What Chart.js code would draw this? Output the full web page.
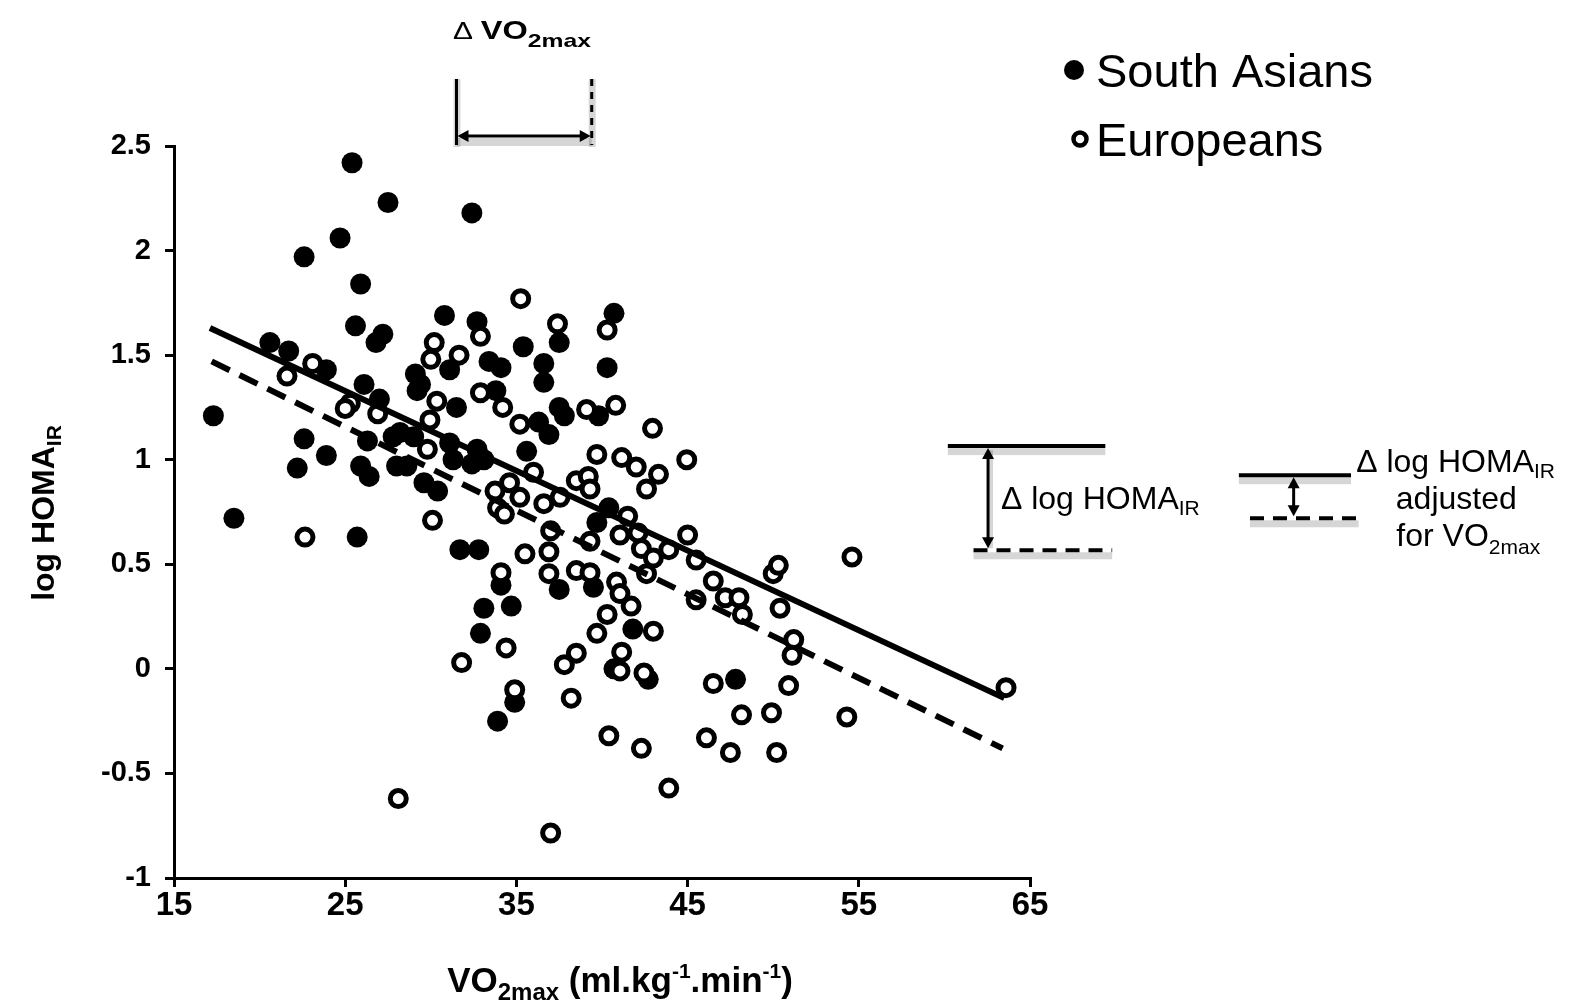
<!DOCTYPE html>
<html>
<head>
<meta charset="utf-8">
<script src="https://cdn.jsdelivr.net/npm/chart.js@4.4.0/dist/chart.umd.min.js"></script>
<style>
  html, body { margin: 0; padding: 0; background: #fff; }
  #wrap { width: 1593px; height: 1000px; }
</style>
</head>
<body>
<div id="wrap"><canvas id="myChart" width="1593" height="1000"></canvas></div>
<script>
// South Asians (filled circles)
const southAsianX = [17.3, 18.5, 20.6, 21.7, 22.6, 22.6, 22.2, 23.9, 23.9, 24.7,
  25.4, 25.9, 25.6, 26.1, 25.7, 25.9, 26.4, 26.8, 27.2, 27.5,
  27.0, 26.3, 28.2, 28.0, 28.6, 27.8, 29.1, 29.4, 29.2, 29.6,
  30.4, 30.8, 31.1, 31.1, 31.3, 31.5, 31.7, 32.4, 32.4, 32.7,
  32.7, 33.1, 32.8, 33.1, 32.9, 33.4, 33.8, 34.1, 34.1, 33.9,
  34.7, 34.9, 35.4, 35.6, 36.3, 36.6, 36.6, 36.9, 37.5, 37.5,
  37.8, 37.5, 39.5, 39.7, 40.3, 40.4, 40.7, 39.8, 41.8, 42.7,
  40.7, 47.8, 29.0];
const southAsianY = [1.21, 0.72, 1.56, 1.52, 1.97, 1.10, 0.96, 1.43, 1.02, 2.06,
  2.42, 1.84, 1.64, 1.36, 0.63, 0.97, 0.92, 1.56, 1.60, 2.23,
  1.29, 1.09, 1.13, 0.97, 0.97, 1.11, 1.41, 1.36, 1.33, 0.89,
  0.85, 1.69, 1.43, 1.08, 1.00, 1.25, 0.57, 0.98, 2.18, 1.66,
  1.05, 1.00, 0.57, 0.29, 0.17, 1.47, 1.33, 1.44, 0.40, -0.25,
  0.30, -0.16, 1.54, 1.04, 1.18, 1.46, 1.37, 1.12, 1.25, 1.56,
  1.21, 0.38, 0.39, 0.70, 1.44, 0.77, 1.70, 1.21, 0.19, -0.05,
  0.00, -0.05, 1.11];

// Europeans (open circles)
const europeanX = [21.6, 22.65, 23.1, 25.3, 25.0, 26.9, 30.35, 30.2, 30.0, 29.95,
  29.8, 30.1, 28.1, 31.65, 32.9, 32.9, 31.8, 34.2, 34.4, 33.75,
  33.9, 34.3, 34.1, 34.6, 35.2, 35.25, 35.2, 36.0, 35.5, 34.9,
  36.6, 37.0, 36.9, 36.9, 37.0, 37.4, 37.55, 37.8, 38.2, 38.5,
  38.5, 38.5, 39.2, 39.3, 39.3, 39.3, 39.1, 39.7, 39.7, 40.3,
  40.3, 40.4, 40.8, 40.85, 41.05, 41.05, 41.15, 41.15, 41.05, 41.5,
  41.7, 42.1, 42.0, 42.3, 42.3, 42.45, 42.6, 42.6, 42.95, 43.0,
  43.0, 43.3, 43.9, 43.9, 44.95, 45.0, 45.5, 45.5, 46.1, 46.5,
  46.5, 47.2, 48.0, 47.5, 48.2, 48.15, 49.9, 50.0, 50.3, 50.2,
  50.4, 50.9, 51.2, 51.1, 54.3, 54.6, 63.6];
const europeanY = [1.40, 0.63, 1.46, 1.27, 1.245, 1.22, 1.28, 1.56, 1.48, 1.19,
  1.05, 0.71, -0.62, 1.50, 1.59, 1.32, 0.03, 1.25, 0.10, 0.85,
  0.77, 0.74, 0.46, 0.89, 0.82, 1.77, 1.17, 0.94, 0.55, -0.10,
  0.79, 0.66, 0.56, 0.455, -0.785, 1.65, 0.82, 0.02, -0.14, 0.075,
  0.47, 0.90, 0.92, 0.86, 0.61, 0.46, 1.24, 1.025, 0.17, 1.62,
  0.26, -0.32, 1.26, 0.415, 0.64, 0.36, 1.01, 0.08, -0.01, 0.73,
  0.30, 0.65, 0.965, 0.575, -0.38, -0.02, 0.455, 0.86, 1.15, 0.18,
  0.53, 0.93, 0.57, -0.57, 1.00, 0.64, 0.52, 0.33, -0.33, -0.07,
  0.42, 0.34, 0.34, -0.40, 0.26, -0.22, -0.21, 0.455, 0.495, -0.40,
  0.29, -0.08, 0.14, 0.065, -0.23, 0.535, -0.09];

// regression lines, end points
const fitSolidX = [17.1, 63.5];
const fitSolidY = [1.63, -0.14];
const fitDashedX = [17.2, 63.4];
const fitDashedY = [1.47, -0.38];

// axes
const xTicks = [15, 25, 35, 45, 55, 65];
const yTicks = [-1, -0.5, 0, 0.5, 1, 1.5, 2, 2.5];

// delta markers (x values for the VO2max gap, y values for the HOMA gaps)
const deltaVO2 = [31.5, 39.4];
const deltaHoma = [1.065, 0.567];
const deltaHomaAdj = [0.926, 0.72];

const FONT = "'Liberation Sans', Arial, sans-serif";
const SHADE = 'rgba(0,0,0,0.16)';
const toPoints = (xs, ys) => xs.map((x, i) => ({ x: x, y: ys[i] }));

// draw a run of text pieces: [text, size, weight, dy, gapBefore]
function richText(ctx, parts, x, y, align, sx) {
    sx = sx || 1;
    let w = 0;
    parts.forEach(p => {
        ctx.font = `${p[2]} ${p[1]}px ${FONT}`;
        w += ctx.measureText(p[0]).width + (p[4] || 0);
    });
    ctx.save();
    ctx.translate(x, y);
    ctx.scale(sx, 1);
    let cx = align === 'center' ? -w / 2 : (align === 'right' ? -w : 0);
    ctx.textAlign = 'left';
    ctx.textBaseline = 'alphabetic';
    ctx.fillStyle = '#000';
    parts.forEach(p => {
        ctx.font = `${p[2]} ${p[1]}px ${FONT}`;
        cx += (p[4] || 0);
        ctx.fillText(p[0], cx, p[3] || 0);
        cx += ctx.measureText(p[0]).width;
    });
    ctx.restore();
}

function arrowHead(ctx, x, y, dir) {
    const L = 11, H = 6;
    ctx.beginPath();
    if (dir === 'left') { ctx.moveTo(x, y); ctx.lineTo(x + L, y - H); ctx.lineTo(x + L, y + H); }
    if (dir === 'right') { ctx.moveTo(x, y); ctx.lineTo(x - L, y - H); ctx.lineTo(x - L, y + H); }
    if (dir === 'up') { ctx.moveTo(x, y); ctx.lineTo(x - H, y + L); ctx.lineTo(x + H, y + L); }
    if (dir === 'down') { ctx.moveTo(x, y); ctx.lineTo(x - H, y - L); ctx.lineTo(x + H, y - L); }
    ctx.closePath();
    ctx.fill();
}

function hLine(ctx, x1, x2, y, dashed) {
    ctx.save();
    ctx.fillStyle = SHADE;
    ctx.fillRect(x1, y + 2, x2 - x1, 7);
    ctx.strokeStyle = '#000';
    ctx.lineWidth = 4;
    ctx.setLineDash(dashed ? [14, 9] : []);
    ctx.beginPath(); ctx.moveTo(x1, y); ctx.lineTo(x2, y); ctx.stroke();
    ctx.restore();
}

const annotations = {
    id: 'annotations',
    afterDraw(chart) {
        const { ctx, chartArea, scales: { x, y } } = chart;
        ctx.save();
        ctx.fillStyle = '#000';
        ctx.strokeStyle = '#000';

        // axis titles
        ctx.save();
        ctx.translate(42, (chartArea.top + chartArea.bottom) / 2 + 1);
        ctx.rotate(-Math.PI / 2);
        richText(ctx, [['log HOMA', 32, 'bold', 0], ['IR', 21, 'bold', 7]], 0, 12, 'center');
        ctx.restore();
        richText(ctx, [['VO', 35, 'bold', 0], ['2max', 24, 'bold', 8], [' (ml.kg', 35, 'bold', 0],
            ['-1', 21, 'bold', -14], ['.min', 35, 'bold', 0], ['-1', 21, 'bold', -14], [')', 35, 'bold', 0]],
            620, 992, 'center');

        // delta VO2max
        const xa = x.getPixelForValue(deltaVO2[0]);
        const xb = x.getPixelForValue(deltaVO2[1]);
        const top = chartArea.top;
        ctx.fillStyle = SHADE;
        ctx.fillRect(xa - 3, top - 67, 7, 68);
        ctx.fillRect(xb - 3, top - 67, 7, 68);
        ctx.fillRect(xa, top - 8, xb - xa, 8);
        ctx.fillStyle = '#000';
        ctx.lineWidth = 3;
        ctx.beginPath(); ctx.moveTo(xa, top - 67); ctx.lineTo(xa, top - 1); ctx.stroke();
        ctx.save();
        ctx.setLineDash([7, 6]);
        ctx.beginPath(); ctx.moveTo(xb, top - 67); ctx.lineTo(xb, top - 1); ctx.stroke();
        ctx.restore();
        const ay = top - 10;
        ctx.beginPath(); ctx.moveTo(xa + 6, ay); ctx.lineTo(xb - 6, ay); ctx.stroke();
        arrowHead(ctx, xa + 1, ay, 'left');
        arrowHead(ctx, xb - 1, ay, 'right');
        richText(ctx, [['\u0394', 23, 'normal', 0], ['VO', 25, 'bold', 0, 6], ['2max', 19, 'bold', 8]],
            453, 39, 'left', 1.3);

        // delta log HOMA
        const ya = y.getPixelForValue(deltaHoma[0]);
        const yb = y.getPixelForValue(deltaHoma[1]);
        hLine(ctx, x.getPixelForValue(60.2), x.getPixelForValue(69.4), ya, false);
        hLine(ctx, x.getPixelForValue(61.7), x.getPixelForValue(69.8), yb, true);
        const vx = x.getPixelForValue(62.55);
        ctx.fillStyle = SHADE;
        ctx.fillRect(vx - 1, ya + 4, 6, yb - ya - 6);
        ctx.fillStyle = '#000';
        ctx.lineWidth = 3;
        ctx.beginPath(); ctx.moveTo(vx, ya + 6); ctx.lineTo(vx, yb - 6); ctx.stroke();
        arrowHead(ctx, vx, ya + 2, 'up');
        arrowHead(ctx, vx, yb - 2, 'down');
        richText(ctx, [['\u0394 log HOMA', 32, 'normal', 0], ['IR', 21, 'normal', 6]],
            x.getPixelForValue(63.3), yb - 41, 'left');

        // delta log HOMA adjusted for VO2max
        const yc = y.getPixelForValue(deltaHomaAdj[0]);
        const yd = y.getPixelForValue(deltaHomaAdj[1]);
        hLine(ctx, x.getPixelForValue(77.2), x.getPixelForValue(83.75), yc, false);
        hLine(ctx, x.getPixelForValue(77.85), x.getPixelForValue(84.2), yd, true);
        const sx2 = x.getPixelForValue(80.4);
        ctx.lineWidth = 3;
        ctx.beginPath(); ctx.moveTo(sx2, yc + 6); ctx.lineTo(sx2, yd - 6); ctx.stroke();
        arrowHead(ctx, sx2, yc + 2, 'up');
        arrowHead(ctx, sx2, yd - 2, 'down');
        richText(ctx, [['\u0394 log HOMA', 32, 'normal', 0], ['IR', 21, 'normal', 6]],
            x.getPixelForValue(84.05), yc - 3, 'left');
        richText(ctx, [['adjusted', 32, 'normal', 0]], x.getPixelForValue(89.9), yc + 34, 'center');
        richText(ctx, [['for VO', 32, 'normal', 0], ['2max', 21, 'normal', 8]],
            x.getPixelForValue(90.6), yc + 71, 'center');

        // legend
        ctx.fillStyle = '#000';
        ctx.beginPath(); ctx.arc(1074, 70, 10, 0, Math.PI * 2); ctx.fill();
        ctx.lineWidth = 4.5;
        ctx.beginPath(); ctx.arc(1080, 139, 6.5, 0, Math.PI * 2); ctx.stroke();
        richText(ctx, [['South Asians', 47, 'normal', 0]], 1096, 87, 'left');
        richText(ctx, [['Europeans', 47, 'normal', 0]], 1096, 156, 'left');
        ctx.restore();
    }
};

const ctx = document.getElementById('myChart').getContext('2d');
const myChart = new Chart(ctx, {
    type: 'scatter',
    data: {
        datasets: [{
            label: 'South Asians fit',
            data: toPoints(fitSolidX, fitSolidY),
            showLine: true,
            borderColor: '#000',
            borderWidth: 6,
            borderCapStyle: 'butt',
            pointRadius: 0,
            order: 0
        }, {
            label: 'Europeans fit',
            data: toPoints(fitDashedX, fitDashedY),
            showLine: true,
            borderColor: '#000',
            borderWidth: 6,
            borderDash: [20, 11],
            borderCapStyle: 'butt',
            pointRadius: 0,
            order: 0
        }, {
            label: 'Europeans',
            data: toPoints(europeanX, europeanY),
            pointRadius: 8,
            borderWidth: 5,
            borderColor: '#000',
            backgroundColor: '#fff',
            order: 1
        }, {
            label: 'South Asians',
            data: toPoints(southAsianX, southAsianY),
            pointRadius: 10.5,
            borderWidth: 0,
            backgroundColor: '#000',
            order: 2
        }]
    },
    options: {
        responsive: false,
        animation: false,
        devicePixelRatio: 1,
        layout: { padding: { top: 146, right: 563, left: 0, bottom: 0 } },
        plugins: { legend: { display: false }, tooltip: { enabled: false } },
        scales: {
            x: {
                type: 'linear',
                min: 15,
                max: 65,
                afterBuildTicks: s => { s.ticks = xTicks.map(v => ({ value: v })); },
                afterFit: s => { s.height = 122; },
                grid: { drawOnChartArea: false, drawTicks: true, tickLength: 9, lineWidth: 3, color: '#000' },
                border: { display: true, width: 3, color: '#000' },
                ticks: { color: '#000', padding: -1, font: { family: FONT, size: 33, weight: 'bold' } }
            },
            y: {
                type: 'linear',
                min: -1,
                max: 2.5,
                afterBuildTicks: s => { s.ticks = yTicks.map(v => ({ value: v })); },
                afterFit: s => { s.width = 174; },
                grid: { drawOnChartArea: false, drawTicks: true, tickLength: 9, lineWidth: 3, color: '#000' },
                border: { display: true, width: 3, color: '#000' },
                ticks: { color: '#000', padding: 14, font: { family: FONT, size: 29, weight: 'bold' },
                    callback: v => String(v) }
            }
        }
    },
    plugins: [annotations]
});
</script>
</body>
</html>
